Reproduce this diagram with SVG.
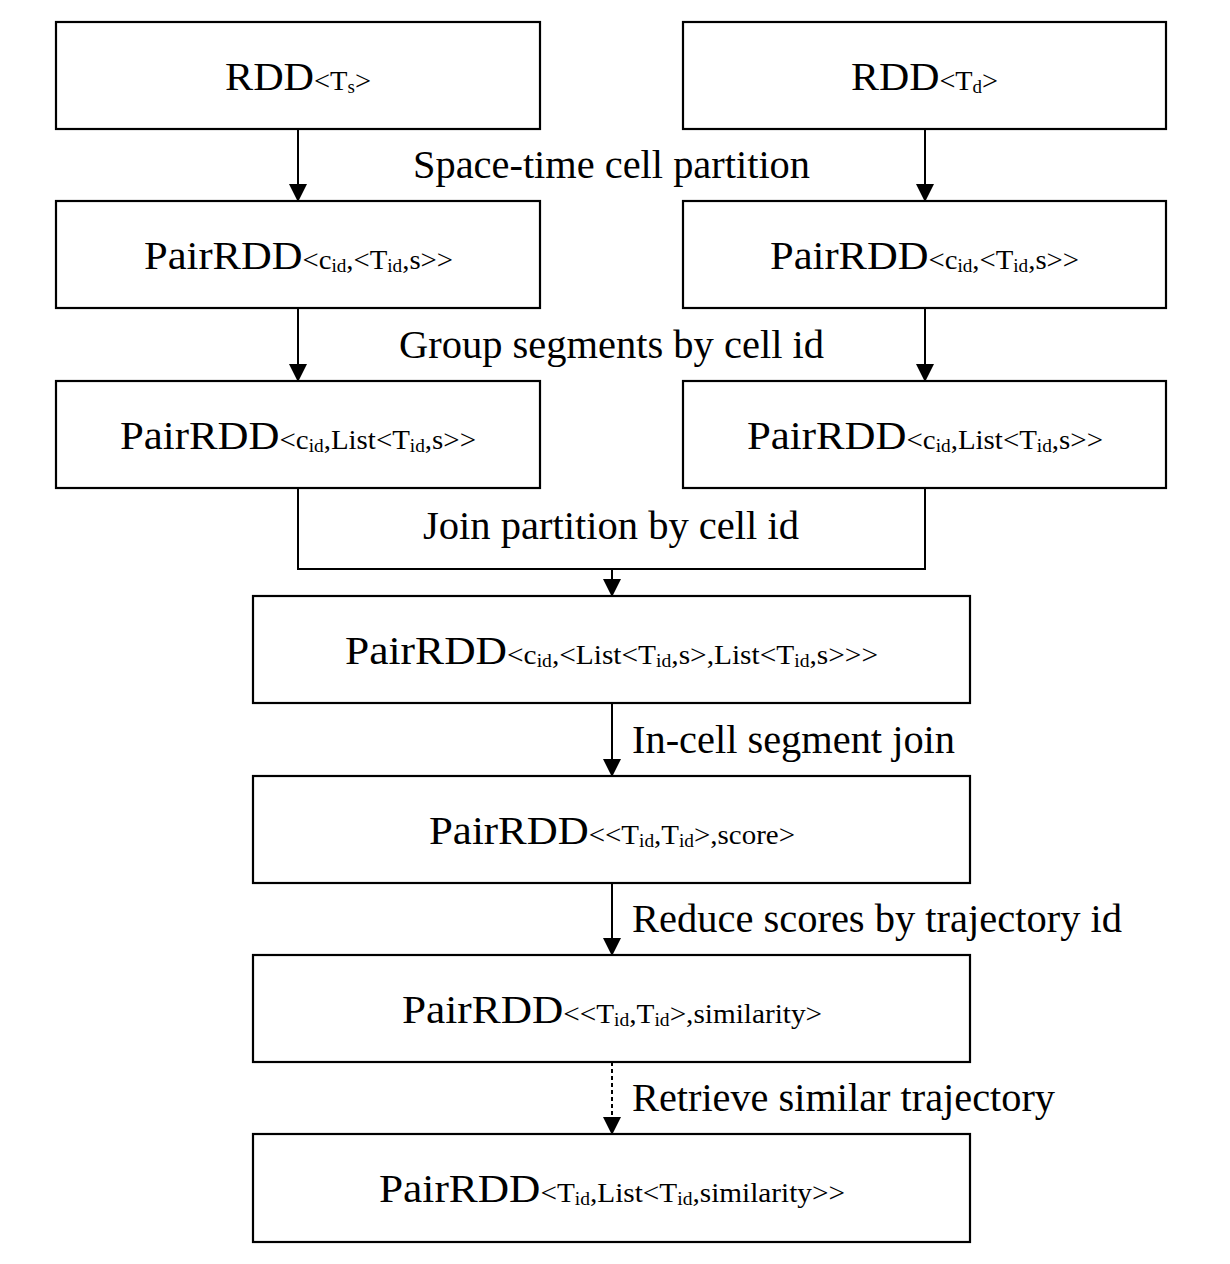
<svg xmlns="http://www.w3.org/2000/svg" width="1230" height="1264" viewBox="0 0 1230 1264">
<style>
.box{fill:#fff;stroke:#000;stroke-width:2.2}
.ln{fill:none;stroke:#000;stroke-width:2}
.arr{marker-end:url(#ah)}
.dash{stroke-dasharray:4 3}
text{font-family:"Liberation Serif","Times New Roman",serif;fill:#000}
.big{font-size:40px}
.mid{font-size:27px}
.sub{font-size:18px}
.lbl{font-size:40px}
</style>
<defs>
<marker id="ah" markerUnits="userSpaceOnUse" markerWidth="18" markerHeight="18" viewBox="0 0 18 18" refX="17" refY="9" orient="auto">
<path d="M0,0 L18,9 L0,18 Z" fill="#000"/>
</marker>
</defs>
<rect width="1230" height="1264" fill="#fff"/>

<g id="connectors">
<path class="ln arr" d="M298,129 V201"/>
<path class="ln arr" d="M925,129 V201"/>
<path class="ln arr" d="M298,308 V381"/>
<path class="ln arr" d="M925,308 V381"/>
<path class="ln" d="M298,488 V569 H925 V488"/>
<path class="ln arr" d="M612,569 V596"/>
<path class="ln arr" d="M612,703 V776"/>
<path class="ln arr" d="M612,883 V955"/>
<path class="ln dash arr" d="M612,1062 V1134"/>
</g>

<g id="labels">
<text class="lbl" x="413" y="178" textLength="397" lengthAdjust="spacingAndGlyphs">Space-time cell partition</text>
<text class="lbl" x="399" y="358" textLength="425" lengthAdjust="spacingAndGlyphs">Group segments by cell id</text>
<text class="lbl" x="423" y="539" textLength="376" lengthAdjust="spacingAndGlyphs">Join partition by cell id</text>
<text class="lbl" x="632" y="753" textLength="323" lengthAdjust="spacingAndGlyphs">In-cell segment join</text>
<text class="lbl" x="632" y="932" textLength="490" lengthAdjust="spacingAndGlyphs">Reduce scores by trajectory id</text>
<text class="lbl" x="632" y="1111" textLength="423" lengthAdjust="spacingAndGlyphs">Retrieve similar trajectory</text>
</g>

<g id="rdd-ts">
<rect class="box" x="56" y="22" width="484" height="107"/>
<text x="225" y="90" textLength="146" lengthAdjust="spacingAndGlyphs"><tspan class="big">RDD</tspan><tspan class="mid">&lt;T</tspan><tspan class="sub" dy="3">s</tspan><tspan class="mid" dy="-3">&gt;</tspan></text>
</g>

<g id="rdd-td">
<rect class="box" x="683" y="22" width="483" height="107"/>
<text x="851" y="90" textLength="147" lengthAdjust="spacingAndGlyphs"><tspan class="big">RDD</tspan><tspan class="mid">&lt;T</tspan><tspan class="sub" dy="3">d</tspan><tspan class="mid" dy="-3">&gt;</tspan></text>
</g>

<g id="pair-s">
<rect class="box" x="56" y="201" width="484" height="107"/>
<text x="144" y="269" textLength="309" lengthAdjust="spacingAndGlyphs"><tspan class="big">PairRDD</tspan><tspan class="mid">&lt;c</tspan><tspan class="sub" dy="3">id</tspan><tspan class="mid" dy="-3">,&lt;T</tspan><tspan class="sub" dy="3">id</tspan><tspan class="mid" dy="-3">,s&gt;&gt;</tspan></text>
</g>

<g id="pair-d">
<rect class="box" x="683" y="201" width="483" height="107"/>
<text x="770" y="269" textLength="309" lengthAdjust="spacingAndGlyphs"><tspan class="big">PairRDD</tspan><tspan class="mid">&lt;c</tspan><tspan class="sub" dy="3">id</tspan><tspan class="mid" dy="-3">,&lt;T</tspan><tspan class="sub" dy="3">id</tspan><tspan class="mid" dy="-3">,s&gt;&gt;</tspan></text>
</g>

<g id="group-s">
<rect class="box" x="56" y="381" width="484" height="107"/>
<text x="120" y="449" textLength="356" lengthAdjust="spacingAndGlyphs"><tspan class="big">PairRDD</tspan><tspan class="mid">&lt;c</tspan><tspan class="sub" dy="3">id</tspan><tspan class="mid" dy="-3">,List&lt;T</tspan><tspan class="sub" dy="3">id</tspan><tspan class="mid" dy="-3">,s&gt;&gt;</tspan></text>
</g>

<g id="group-d">
<rect class="box" x="683" y="381" width="483" height="107"/>
<text x="747" y="449" textLength="356" lengthAdjust="spacingAndGlyphs"><tspan class="big">PairRDD</tspan><tspan class="mid">&lt;c</tspan><tspan class="sub" dy="3">id</tspan><tspan class="mid" dy="-3">,List&lt;T</tspan><tspan class="sub" dy="3">id</tspan><tspan class="mid" dy="-3">,s&gt;&gt;</tspan></text>
</g>

<g id="joined">
<rect class="box" x="253" y="596" width="717" height="107"/>
<text x="345" y="664" textLength="533" lengthAdjust="spacingAndGlyphs"><tspan class="big">PairRDD</tspan><tspan class="mid">&lt;c</tspan><tspan class="sub" dy="3">id</tspan><tspan class="mid" dy="-3">,&lt;List&lt;T</tspan><tspan class="sub" dy="3">id</tspan><tspan class="mid" dy="-3">,s&gt;,List&lt;T</tspan><tspan class="sub" dy="3">id</tspan><tspan class="mid" dy="-3">,s&gt;&gt;&gt;</tspan></text>
</g>

<g id="scored">
<rect class="box" x="253" y="776" width="717" height="107"/>
<text x="429" y="844" textLength="366" lengthAdjust="spacingAndGlyphs"><tspan class="big">PairRDD</tspan><tspan class="mid">&lt;&lt;T</tspan><tspan class="sub" dy="3">id</tspan><tspan class="mid" dy="-3">,T</tspan><tspan class="sub" dy="3">id</tspan><tspan class="mid" dy="-3">&gt;,score&gt;</tspan></text>
</g>

<g id="similarity">
<rect class="box" x="253" y="955" width="717" height="107"/>
<text x="402" y="1023" textLength="420" lengthAdjust="spacingAndGlyphs"><tspan class="big">PairRDD</tspan><tspan class="mid">&lt;&lt;T</tspan><tspan class="sub" dy="3">id</tspan><tspan class="mid" dy="-3">,T</tspan><tspan class="sub" dy="3">id</tspan><tspan class="mid" dy="-3">&gt;,similarity&gt;</tspan></text>
</g>

<g id="result">
<rect class="box" x="253" y="1134" width="717" height="108"/>
<text x="379" y="1202" textLength="466" lengthAdjust="spacingAndGlyphs"><tspan class="big">PairRDD</tspan><tspan class="mid">&lt;T</tspan><tspan class="sub" dy="3">id</tspan><tspan class="mid" dy="-3">,List&lt;T</tspan><tspan class="sub" dy="3">id</tspan><tspan class="mid" dy="-3">,similarity&gt;&gt;</tspan></text>
</g>
</svg>
